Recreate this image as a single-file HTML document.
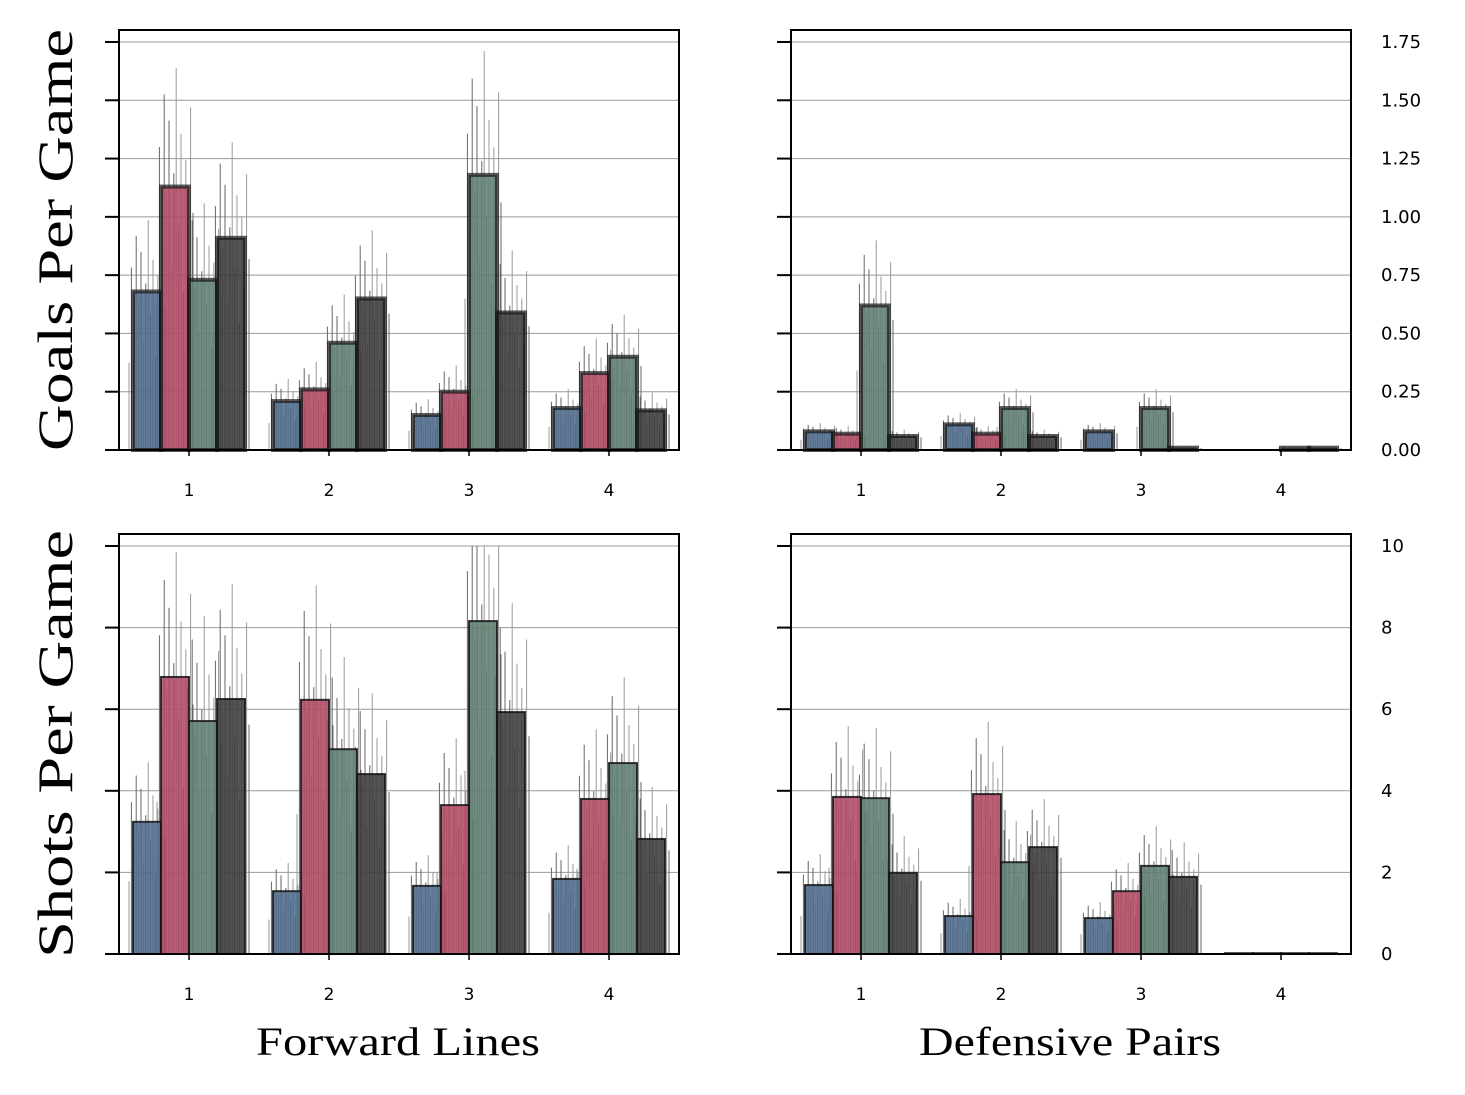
<!DOCTYPE html>
<html><head><meta charset="utf-8">
<style>
html,body{margin:0;padding:0;background:#fff;}
svg{display:block;}
text{font-family:"DejaVu Sans","Liberation Sans",sans-serif;}
.serif{font-family:"Liberation Serif",serif;}
</style></head>
<body>
<svg id="chart" width="1465" height="1095" viewBox="0 0 1465 1095" xmlns="http://www.w3.org/2000/svg">
<rect width="1465" height="1095" fill="#fff"/>
<text class="serif" transform="translate(72,240) rotate(-90)" text-anchor="middle" font-size="50" textLength="422" lengthAdjust="spacingAndGlyphs" fill="#000">Goals Per Game</text>
<text class="serif" transform="translate(72,744) rotate(-90)" text-anchor="middle" font-size="50" textLength="428" lengthAdjust="spacingAndGlyphs" fill="#000">Shots Per Game</text>
<text class="serif" x="398" y="1055" text-anchor="middle" font-size="40" textLength="284" lengthAdjust="spacingAndGlyphs" fill="#000">Forward Lines</text>
<text class="serif" x="1070" y="1055" text-anchor="middle" font-size="40" textLength="302" lengthAdjust="spacingAndGlyphs" fill="#000">Defensive Pairs</text>
</svg>
<script>
const categories = [1, 2, 3, 4];
const seriesNames = ['blue', 'red', 'green', 'black'];
const goalsForwards = [[0.68, 0.21, 0.15, 0.18], [1.13, 0.26, 0.25, 0.33], [0.73, 0.46, 1.18, 0.40], [0.91, 0.65, 0.59, 0.17]];
const goalsDefense = [[0.08, 0.11, 0.08, 0.0], [0.07, 0.07, 0.0, 0.0], [0.62, 0.18, 0.18, 0.01], [0.06, 0.06, 0.01, 0.01]];
const shotsForwards = [[3.24, 1.54, 1.67, 1.84], [6.79, 6.23, 3.65, 3.80], [5.71, 5.02, 8.16, 4.68], [6.25, 4.41, 5.93, 2.82]];
const shotsDefense = [[1.69, 0.93, 0.88, 0.02], [3.85, 3.92, 1.54, 0.02], [3.82, 2.25, 2.16, 0.02], [1.99, 2.62, 1.89, 0.02]];
const goalsTicks = ['0.00', '0.25', '0.50', '0.75', '1.00', '1.25', '1.50', '1.75'];
const goalsTickVals = [0, 0.25, 0.5, 0.75, 1, 1.25, 1.5, 1.75];
const shotsTicks = ['0', '2', '4', '6', '8', '10'];
const shotsTickVals = [0, 2, 4, 6, 8, 10];
const spreadPattern = [0.55, 1.15, 0.8, 1.35, 0.95, 1.25, 0.7, 1.05, 1.45, 0.85, 1.2, 0.6, 1.1, 0.75, 1.3, 0.9];

const colors = ['#4d6a8a', '#b04a63', '#5e7d70', '#3b3b3b'];
const NS = 'http://www.w3.org/2000/svg';
const svg = document.getElementById('chart');
function mk(tag, attrs, parent) {
  const e = document.createElementNS(NS, tag);
  for (const k in attrs) e.setAttribute(k, attrs[k]);
  (parent || svg).appendChild(e);
  return e;
}
const panels = [
  {name: 'goals-forwards', x0: 119, y0: 30, data: goalsForwards, max: 1.75, yTop: 42, ticks: goalsTicks, tv: goalsTickVals, labels: false, thick: true},
  {name: 'goals-defense', x0: 791, y0: 30, data: goalsDefense, max: 1.75, yTop: 42, ticks: goalsTicks, tv: goalsTickVals, labels: true, thick: true},
  {name: 'shots-forwards', x0: 119, y0: 534, data: shotsForwards, max: 10, yTop: 546, ticks: shotsTicks, tv: shotsTickVals, labels: false, thick: false},
  {name: 'shots-defense', x0: 791, y0: 534, data: shotsDefense, max: 10, yTop: 546, ticks: shotsTicks, tv: shotsTickVals, labels: true, thick: false}
];
panels.forEach(p => {
  const W = 560, H = 420, yBase = p.y0 + H;
  const xs = v => p.x0 + (v - 0.5) / 4 * W;
  const ys = v => yBase - v / p.max * (yBase - p.yTop);
  const g = mk('g', {});
  
  
  p.tv.forEach((tv, i) => {
    const y = ys(tv);
    if (tv > 0) {
      const gl = mk('line', {x1: p.x0, x2: p.x0 + W, y1: y, y2: y, stroke: '#999', 'stroke-width': 1}, g);
      
      
    }
    const tk = mk('line', {x1: p.x0 - 14, x2: p.x0, y1: y, y2: y, stroke: '#000', 'stroke-width': 2}, g);
    
    
    if (p.labels) {
      const t = mk('text', {x: p.x0 + W + 30, y: y + 6, 'font-size': 18, fill: '#000'}, g);
      t.textContent = p.ticks[i];
      
      
    }
  });
  p.data.forEach((ser, si) => {
    ser.forEach((v, ci) => {
      const cx = xs(categories[ci] + (si - 1.5) * 0.2);
      spreadPattern.forEach((f, k) => {
        const h = v * f;
        if (h <= 0) return;
        const lx = cx - 18 + k * 2.4;
        const ln = mk('line', {x1: lx, x2: lx, y1: yBase, y2: ys(Math.min(h, p.max)), stroke: k % 2 ? '#666' : '#999', 'stroke-width': 1}, g);
        
        
      });
    });
  });
  p.data.forEach((ser, si) => {
    ser.forEach((v, ci) => {
      if (v <= 0) return;
      const cx = xs(categories[ci] + (si - 1.5) * 0.2);
      const bw = 0.2 / 4 * W;
      const r = mk('rect', {x: cx - bw / 2, y: ys(v), width: bw, height: yBase - ys(v), fill: colors[si], 'fill-opacity': 0.88,
        stroke: p.thick ? 'rgba(20,20,20,0.7)' : 'rgba(20,20,20,0.85)', 'stroke-width': p.thick ? 4 : 2}, g);
      
      
    });
  });
  categories.forEach(c => {
    const x = xs(c);
    const tk = mk('line', {x1: x, x2: x, y1: yBase, y2: yBase + 6, stroke: '#000', 'stroke-width': 1.5}, g);
    
    
    const t = mk('text', {x: x, y: yBase + 46, 'font-size': 17, 'text-anchor': 'middle', fill: '#000'}, g);
    t.textContent = c;
    
    
  });
  const fr = mk('rect', {x: p.x0, y: p.y0, width: W, height: H, fill: 'none', stroke: '#000', 'stroke-width': 2}, g);
  
  
});
</script>
</body></html>
